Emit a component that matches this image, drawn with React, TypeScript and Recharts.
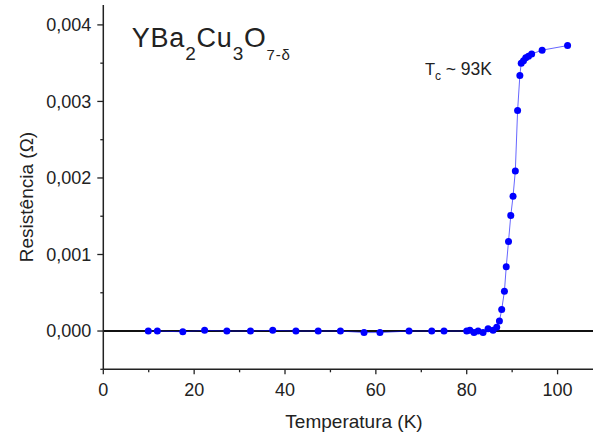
import React from 'react'
import { LineChart, Line, XAxis, YAxis, ReferenceLine } from 'recharts'

// temperatura (K)
const temps = [
  9.9, 11.9, 17.5, 22.3, 27.2, 32.4, 37.3, 42.4, 47.3, 52.2, 57.4, 60.9, 67.3, 72.3, 75.0,
  80.0, 80.7, 81.6, 82.5, 83.6, 84.7, 85.8, 86.6,
  87.2, 87.7, 88.3, 88.7, 89.2, 89.7, 90.2, 90.7, 91.2, 91.7,
  92.0, 92.5, 93.0, 93.6, 94.3, 96.6, 102.2,
]

// resistencia (ohm)
const resist = [
  0, 0, -0.00001, 0.00001, 0, 0, 0.00001, 0, 0, 0, -0.00002, -0.00002, 0, 0, 0,
  0, 0.00001, -0.00002, 0, -0.00002, 0.00003, 0.00001, 0.00005,
  0.00013, 0.00028, 0.00052, 0.00084, 0.00117, 0.00151, 0.00176, 0.00209, 0.00288, 0.00334,
  0.0035, 0.00353, 0.00357, 0.00359, 0.00362, 0.00367, 0.00373,
]

const xTicks = [0, 10, 20, 30, 40, 50, 60, 70, 80, 90, 100, 110]
const yTicks = [-0.0005, 0, 0.0005, 0.001, 0.0015, 0.002, 0.0025, 0.003, 0.0035, 0.004]

const data = temps.map((t, i) => ({ T: t, R: resist[i] }))

const FONT = '"Liberation Sans", Arial, sans-serif'
const INK = '#222'

function XTick(props: any) {
  const { x, y, payload } = props
  const major = payload.value % 20 === 0
  return (
    <g>
      <line x1={x} y1={y} x2={x} y2={y + (major ? 5 : 3)} stroke={INK} strokeWidth={1.3} />
      {major && (
        <text x={x} y={y + 26.5} textAnchor="middle" fontSize={18} fill={INK} fontFamily={FONT}>
          {payload.value}
        </text>
      )}
    </g>
  )
}

function YTick(props: any) {
  const { x, y, payload } = props
  const v = payload.value
  const major = Math.abs(v * 1000 - Math.round(v * 1000)) < 1e-6
  return (
    <g>
      <line x1={x} y1={y} x2={x - (major ? 6 : 3)} y2={y} stroke={INK} strokeWidth={1.3} />
      {major && (
        <text x={x - 12} y={y + 6.3} textAnchor="end" fontSize={18} fill={INK} fontFamily={FONT}>
          {v.toFixed(3).replace('.', ',')}
        </text>
      )}
    </g>
  )
}

export default function App() {
  return (
    <div style={{ position: 'absolute', left: 0, top: 0, width: 593, height: 438, overflow: 'hidden', background: '#fff' }}>
      <LineChart width={610} height={438} data={data} margin={{ top: 5, right: 7, bottom: 0, left: 0 }}>
        <XAxis
          dataKey="T"
          type="number"
          domain={[0, 110]}
          ticks={xTicks}
          interval={0}
          height={68.7}
          tickSize={0}
          tickMargin={0}
          tickLine={false}
          tick={<XTick />}
          axisLine={{ stroke: INK, strokeWidth: 1.5 }}
        />
        <XAxis
          xAxisId="top"
          orientation="top"
          dataKey="T"
          type="number"
          domain={[0, 110]}
          height={0}
          tick={false}
          tickLine={false}
          axisLine={{ stroke: INK, strokeWidth: 1.5 }}
        />
        <YAxis
          type="number"
          domain={[-0.0005, 0.00426]}
          ticks={yTicks}
          interval={0}
          width={103.3}
          tickSize={0}
          tickMargin={0}
          tickLine={false}
          tick={<YTick />}
          axisLine={{ stroke: INK, strokeWidth: 1.5 }}
        />
        <ReferenceLine y={0} stroke="#111" strokeWidth={2} />
        <Line
          dataKey="R"
          stroke="#0000ff"
          strokeWidth={1}
          strokeOpacity={0.6}
          dot={{ r: 3.5, fill: '#0000ff', stroke: 'none' }}
          activeDot={false}
          isAnimationActive={false}
        />
      </LineChart>

      <svg width={593} height={438} style={{ position: 'absolute', left: 0, top: 0, pointerEvents: 'none' }} fontFamily={FONT} fill={INK}>
        {/* formula */}
        <text x={131.7} y={46.7} fontSize={27} letterSpacing={0.8}>
          YBa
          <tspan dy={13} fontSize={19}>2</tspan>
          <tspan dy={-13} fontSize={27}>Cu</tspan>
          <tspan dy={13} fontSize={19}>3</tspan>
          <tspan dy={-13} fontSize={28}>O</tspan>
          <tspan dy={13} fontSize={15}>7-δ</tspan>
        </text>

        {/* Tc annotation */}
        <text x={425} y={75} fontSize={16.5}>T</text>
        <text x={435} y={80} fontSize={12}>c</text>
        <text x={445.7} y={75} fontSize={17.5}>~ 93K</text>

        {/* axis titles */}
        <text x={354} y={428.3} fontSize={19} textAnchor="middle">Temperatura (K)</text>
        <text x={33} y={197} fontSize={19} textAnchor="middle" transform="rotate(-90 33 197)">Resistência (Ω)</text>
      </svg>
    </div>
  )
}
